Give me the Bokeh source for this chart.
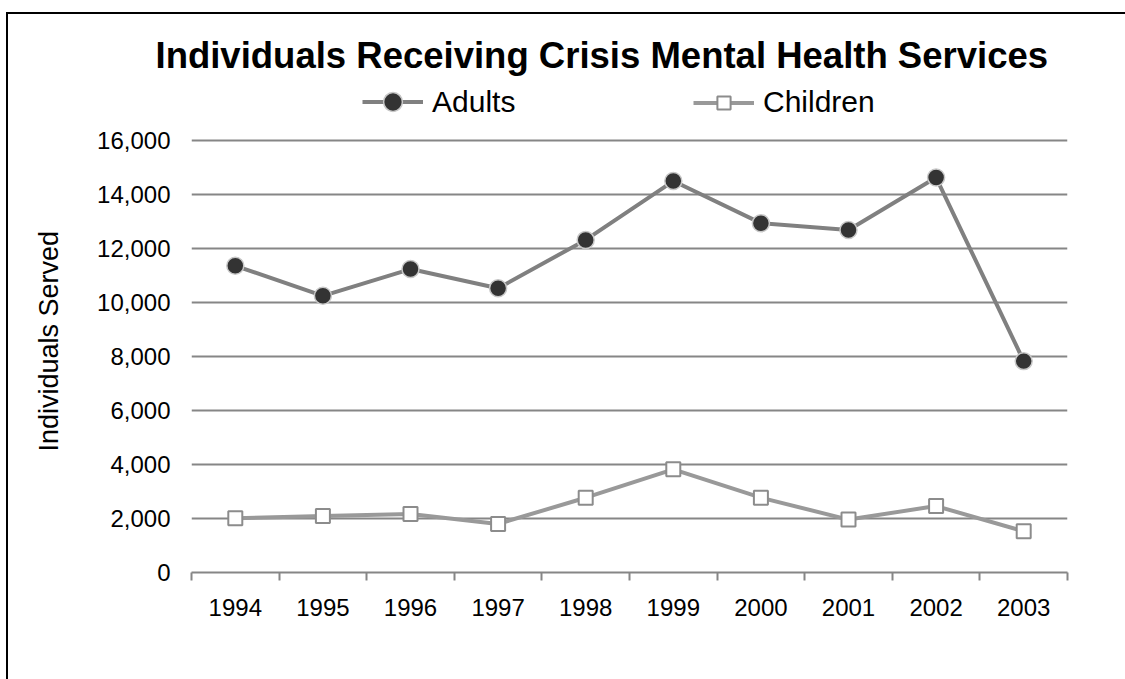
from bokeh.plotting import figure
from bokeh.models import (ColumnDataSource, FixedTicker, NumeralTickFormatter, Range1d,
                          Legend, LegendItem, Title)
from bokeh.embed import file_html
from bokeh.resources import INLINE

# --- data -------------------------------------------------------------
years = ["1994", "1995", "1996", "1997", "1998", "1999", "2000", "2001", "2002", "2003"]
adults = [11360, 10250, 11240, 10530, 12320, 14500, 12940, 12690, 14630, 7830]
children = [2010, 2090, 2170, 1800, 2770, 3820, 2770, 1960, 2460, 1530]
y_ticks = [0, 2000, 4000, 6000, 8000, 10000, 12000, 14000, 16000]

FONT = "Liberation Sans"
GRID = "#868686"

# categories sit at the centre of unit-wide slots; ticks mark slot edges
centers = [i + 0.5 for i in range(len(years))]
edges = list(range(len(years) + 1))

src = ColumnDataSource(dict(x=centers, year=years, adults=adults, children=children))

# the y range runs past the top tick to leave a blank band for the legend row
p = figure(width=1125, height=679, output_backend="svg", toolbar_location=None,
           x_range=Range1d(0, len(years)), y_range=Range1d(0, 18410),
           min_border_left=191, min_border_right=58,
           min_border_top=75, min_border_bottom=107)
p.outline_line_color = None
p.background_fill_color = "white"
p.border_fill_color = None
# pin the chart to the page corner and draw its thin black border on the left and top
p.styles = {
    "position": "absolute",
    "top": "0px",
    "left": "0px",
    "background": ("linear-gradient(black, black) 6px 12px / 2px 100% no-repeat, "
                   "linear-gradient(black, black) 6px 12px / 100% 2px no-repeat, white"),
}

# title
p.title.text = "Individuals Receiving Crisis Mental Health Services"
p.title.text_font = FONT
p.title.text_font_size = "36.5px"
p.title.text_font_style = "bold"
p.title.text_color = "black"
p.title.align = "left"
p.title.offset = -36
p.title.standoff = 0
p.title.vertical_align = "bottom"

# horizontal gridlines
p.xgrid.visible = False
p.ygrid.ticker = FixedTicker(ticks=y_ticks)
p.ygrid.grid_line_color = GRID
p.ygrid.grid_line_width = 2

# y axis: labels only
yax = p.yaxis[0]
yax.ticker = FixedTicker(ticks=y_ticks)
yax.formatter = NumeralTickFormatter(format="0,0")
yax.axis_line_color = None
yax.major_tick_line_color = None
yax.minor_tick_line_color = None
yax.major_tick_in = 0
yax.major_tick_out = 0
yax.major_label_standoff = 21
yax.major_label_text_font = FONT
yax.major_label_text_font_size = "24px"
yax.major_label_text_color = "black"

# vertical axis title, set beside the tick labels and centred on the gridded area
p.add_layout(Title(text="Individuals Served", align="left", offset=121,
                   vertical_align="top", standoff=57,
                   text_font=FONT, text_font_size="27px", text_font_style="normal",
                   text_color="black"), "left")

# x axis: year labels at slot centres, tick marks between slots
xax = p.xaxis[0]
xax.ticker = FixedTicker(ticks=centers, minor_ticks=edges)
xax.major_label_overrides = {c: y for c, y in zip(centers, years)}
xax.axis_line_color = GRID
xax.axis_line_width = 2
xax.major_tick_line_color = None
xax.major_tick_in = 0
xax.major_tick_out = 0
xax.minor_tick_line_color = GRID
xax.minor_tick_line_width = 2
xax.minor_tick_in = 0
xax.minor_tick_out = 8
xax.major_label_standoff = 18
xax.major_label_text_font = FONT
xax.major_label_text_font_size = "24px"
xax.major_label_text_color = "black"

# series
line_c = p.line("x", "children", source=src, line_color="#999999", line_width=4)
mark_c = p.scatter("x", "children", source=src, marker="square", size=14,
                   fill_color="white", line_color="#8c8c8c", line_width=2)
line_a = p.line("x", "adults", source=src, line_color="#808080", line_width=4)
mark_a = p.scatter("x", "adults", source=src, marker="circle", size=17,
                   fill_color="#333333", line_color="#c8c8c8", line_width=1.5)

# one legend per series so each keeps its own marker size
common = dict(orientation="horizontal", glyph_width=61, label_standoff=9,
              label_text_font=FONT, label_text_font_size="30px",
              label_text_color="black", padding=0, margin=0, spacing=0,
              border_line_alpha=0, background_fill_alpha=0)
leg_a = Legend(items=[LegendItem(label="Adults", renderers=[line_a, mark_a])],
               location=(171, 447), glyph_height=47, **common)
leg_c = Legend(items=[LegendItem(label="Children", renderers=[line_c, mark_c])],
               location=(502, 453), glyph_height=33, **common)
p.add_layout(leg_a)
p.add_layout(leg_c)

open("out.html", "w").write(file_html(p, INLINE))
